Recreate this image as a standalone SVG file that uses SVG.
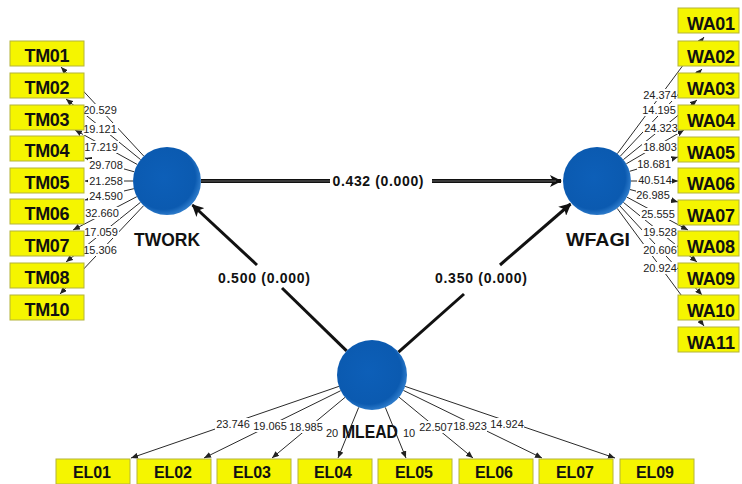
<svg xmlns="http://www.w3.org/2000/svg" width="742" height="484" viewBox="0 0 742 484">
<style>
.ld{stroke:#2a2a2a;stroke-width:1;fill:none;marker-end:url(#a)}
.st{stroke:#111;stroke-width:3;fill:none}
.num{font-family:"Liberation Sans",Arial,sans-serif;font-size:11px;fill:#222;text-anchor:middle}
.bg{fill:#fff}
.box{fill:#f5f500;stroke:#b4b43a;stroke-width:1}
.bt{font-family:"Liberation Sans",Arial,sans-serif;font-size:18px;font-weight:bold;fill:#111;text-anchor:middle}
.et{font-family:"Liberation Sans",Arial,sans-serif;font-size:16px;font-weight:bold;fill:#111;text-anchor:middle}
.lv{fill:url(#g)}
.lt{font-family:"Liberation Sans",Arial,sans-serif;font-size:18px;font-weight:bold;fill:#111;text-anchor:middle}
.pl{font-family:"Liberation Sans",Arial,sans-serif;font-size:14px;font-weight:bold;fill:#111;text-anchor:middle}
</style>
<defs>
<marker id="a" markerUnits="userSpaceOnUse" markerWidth="7" markerHeight="6" refX="7" refY="3" orient="auto"><path d="M0,0 L7,3 L0,6 z" fill="#222"/></marker>
<marker id="b" markerUnits="userSpaceOnUse" markerWidth="12" markerHeight="12" refX="11" refY="6" orient="auto"><path d="M0,0 L12,6 L0,12 L3,6 z" fill="#111"/></marker>
<radialGradient id="g" cx="0.45" cy="0.45" r="0.55"><stop offset="0" stop-color="#0d5fb8"/><stop offset="0.85" stop-color="#0b5ab0"/><stop offset="1" stop-color="#2a78c8"/></radialGradient>
</defs>
<rect width="742" height="484" fill="#fff"/>
<g id="connectors">
<line class="ld" x1="143.8" y1="156.1" x2="61" y2="67"/>
<line class="ld" x1="140.6" y1="159.6" x2="66" y2="99"/>
<line class="ld" x1="137.3" y1="164.5" x2="75" y2="130"/>
<line class="ld" x1="134.3" y1="171.8" x2="85" y2="158"/>
<line class="ld" x1="133" y1="181" x2="85" y2="181"/>
<line class="ld" x1="133.9" y1="188.7" x2="85" y2="200"/>
<line class="ld" x1="136.8" y1="196.7" x2="73" y2="230"/>
<line class="ld" x1="140.5" y1="202.3" x2="66" y2="262"/>
<line class="ld" x1="143.6" y1="205.7" x2="60" y2="294"/>
<line class="ld" x1="617.3" y1="153.7" x2="704" y2="37"/>
<line class="ld" x1="620.3" y1="156.2" x2="702" y2="69"/>
<line class="ld" x1="623.4" y1="159.6" x2="697" y2="100"/>
<line class="ld" x1="626.3" y1="163.8" x2="684" y2="130"/>
<line class="ld" x1="629.6" y1="171.3" x2="678" y2="157"/>
<line class="ld" x1="631" y1="181" x2="678" y2="181"/>
<line class="ld" x1="629.9" y1="189.5" x2="678" y2="202"/>
<line class="ld" x1="626.9" y1="197.1" x2="688" y2="230"/>
<line class="ld" x1="623.4" y1="202.4" x2="697" y2="262"/>
<line class="ld" x1="620" y1="206" x2="702" y2="295"/>
<line class="ld" x1="617.2" y1="208.4" x2="704" y2="326"/>
<line class="ld" x1="338.9" y1="386.4" x2="131" y2="458"/>
<line class="ld" x1="340.7" y1="390.7" x2="204" y2="458"/>
<line class="ld" x1="345.1" y1="397.3" x2="272" y2="458"/>
<line class="ld" x1="358.7" y1="407.4" x2="338" y2="458"/>
<line class="ld" x1="385.3" y1="407.4" x2="406" y2="458"/>
<line class="ld" x1="399.1" y1="397.2" x2="473" y2="458"/>
<line class="ld" x1="403.4" y1="390.4" x2="542" y2="458"/>
<line class="ld" x1="405.1" y1="386.4" x2="615" y2="458"/>
<g>
<rect class="bg" x="83" y="104" width="35" height="12"/><text class="num" x="100" y="114">20.529</text>
<rect class="bg" x="83" y="123" width="35" height="12"/><text class="num" x="100" y="133">19.121</text>
<rect class="bg" x="84" y="141" width="35" height="12"/><text class="num" x="101" y="151">17.219</text>
<rect class="bg" x="88" y="159" width="36" height="12"/><text class="num" x="106" y="169">29.708</text>
<rect class="bg" x="88" y="175" width="36" height="12"/><text class="num" x="106" y="185">21.258</text>
<rect class="bg" x="88" y="190" width="36" height="12"/><text class="num" x="106" y="200">24.590</text>
<rect class="bg" x="84" y="207" width="36" height="12"/><text class="num" x="102" y="217">32.660</text>
<rect class="bg" x="83" y="226" width="36" height="12"/><text class="num" x="101" y="236">17.059</text>
<rect class="bg" x="83" y="244" width="35" height="12"/><text class="num" x="100" y="254">15.306</text>
</g>
<g>
<rect class="bg" x="642" y="89" width="35" height="12"/><text class="num" x="660" y="99">24.374</text>
<rect class="bg" x="642" y="104" width="35" height="12"/><text class="num" x="659" y="114">14.195</text>
<rect class="bg" x="643" y="122" width="35" height="12"/><text class="num" x="661" y="132">24.323</text>
<rect class="bg" x="642" y="141" width="35" height="12"/><text class="num" x="660" y="151">18.803</text>
<rect class="bg" x="637" y="158" width="35" height="12"/><text class="num" x="654" y="168">18.681</text>
<rect class="bg" x="637" y="174" width="35" height="12"/><text class="num" x="655" y="184">40.514</text>
<rect class="bg" x="636" y="189" width="35" height="12"/><text class="num" x="653" y="199">26.985</text>
<rect class="bg" x="640" y="208" width="35" height="12"/><text class="num" x="658" y="218">25.555</text>
<rect class="bg" x="642" y="226" width="35" height="12"/><text class="num" x="660" y="236">19.528</text>
<rect class="bg" x="642" y="244" width="35" height="12"/><text class="num" x="660" y="254">20.606</text>
<rect class="bg" x="642" y="262" width="35" height="12"/><text class="num" x="660" y="272">20.924</text>
</g>
<g>
<rect class="bg" x="215" y="418" width="36" height="12"/><text class="num" x="233" y="428">23.746</text>
<rect class="bg" x="253" y="420" width="34" height="12"/><text class="num" x="270" y="430">19.065</text>
<rect class="bg" x="289" y="421" width="34" height="12"/><text class="num" x="306" y="431">18.985</text>
<rect class="bg" x="326" y="427" width="12" height="12"/><text class="num" x="332" y="437">20</text>
<rect class="bg" x="403" y="427" width="12" height="12"/><text class="num" x="409" y="437">10</text>
<rect class="bg" x="418" y="421" width="36" height="12"/><text class="num" x="436" y="431">22.507</text>
<rect class="bg" x="453" y="420" width="34" height="12"/><text class="num" x="470" y="430">18.923</text>
<rect class="bg" x="490" y="418" width="34" height="12"/><text class="num" x="507" y="428">14.924</text>
</g>
<g>
<line x1="201" y1="181" x2="330" y2="181" stroke="#111" stroke-width="4"/>
<line x1="201" y1="181" x2="330" y2="181" stroke="#777" stroke-width="0.8"/>
<line x1="432" y1="181" x2="561" y2="181" stroke="#111" stroke-width="4" marker-end="url(#b)"/>
<line x1="432" y1="181" x2="556" y2="181" stroke="#777" stroke-width="0.8"/>
<text class="pl" x="378" y="186" textLength="91">0.432 (0.000)</text>
<line class="st" x1="257" y1="265" x2="192.5" y2="205" marker-end="url(#b)"/>
<line class="st" x1="282" y1="288" x2="346.6" y2="350.9"/>
<text class="pl" x="264" y="283" textLength="92">0.500 (0.000)</text>
<line class="st" x1="500" y1="265" x2="570.5" y2="204" marker-end="url(#b)"/>
<line class="st" x1="464" y1="294" x2="398.5" y2="352.1"/>
<text class="pl" x="481" y="283" textLength="92">0.350 (0.000)</text>
</g>
</g>
<g id="TM01"><rect class="box" x="10" y="41" width="74" height="25"/><text class="bt" x="47" y="62" textLength="45">TM01</text></g>
<g id="TM02"><rect class="box" x="10" y="73" width="74" height="25"/><text class="bt" x="47" y="94" textLength="45">TM02</text></g>
<g id="TM03"><rect class="box" x="10" y="105" width="74" height="25"/><text class="bt" x="47" y="126" textLength="45">TM03</text></g>
<g id="TM04"><rect class="box" x="10" y="136" width="74" height="25"/><text class="bt" x="47" y="157" textLength="45">TM04</text></g>
<g id="TM05"><rect class="box" x="10" y="168" width="74" height="25"/><text class="bt" x="47" y="189" textLength="45">TM05</text></g>
<g id="TM06"><rect class="box" x="10" y="199" width="74" height="25"/><text class="bt" x="47" y="220" textLength="45">TM06</text></g>
<g id="TM07"><rect class="box" x="10" y="231" width="74" height="25"/><text class="bt" x="47" y="252" textLength="45">TM07</text></g>
<g id="TM08"><rect class="box" x="10" y="263" width="74" height="25"/><text class="bt" x="47" y="284" textLength="45">TM08</text></g>
<g id="TM10"><rect class="box" x="10" y="295" width="74" height="25"/><text class="bt" x="47" y="316" textLength="45">TM10</text></g>
<g id="WA01"><rect class="box" x="678" y="8" width="61" height="25"/><text class="bt" x="711" y="30" textLength="48">WA01</text></g>
<g id="WA02"><rect class="box" x="678" y="41" width="61" height="25"/><text class="bt" x="711" y="63" textLength="48">WA02</text></g>
<g id="WA03"><rect class="box" x="678" y="73" width="61" height="25"/><text class="bt" x="711" y="95" textLength="48">WA03</text></g>
<g id="WA04"><rect class="box" x="678" y="105" width="61" height="25"/><text class="bt" x="711" y="127" textLength="48">WA04</text></g>
<g id="WA05"><rect class="box" x="678" y="137" width="61" height="25"/><text class="bt" x="711" y="159" textLength="48">WA05</text></g>
<g id="WA06"><rect class="box" x="678" y="168" width="61" height="25"/><text class="bt" x="711" y="190" textLength="48">WA06</text></g>
<g id="WA07"><rect class="box" x="678" y="200" width="61" height="25"/><text class="bt" x="711" y="222" textLength="48">WA07</text></g>
<g id="WA08"><rect class="box" x="678" y="231" width="61" height="25"/><text class="bt" x="711" y="253" textLength="48">WA08</text></g>
<g id="WA09"><rect class="box" x="678" y="263" width="61" height="25"/><text class="bt" x="711" y="285" textLength="48">WA09</text></g>
<g id="WA10"><rect class="box" x="678" y="295" width="61" height="25"/><text class="bt" x="711" y="317" textLength="48">WA10</text></g>
<g id="WA11"><rect class="box" x="678" y="327" width="61" height="25"/><text class="bt" x="711" y="349" textLength="48">WA11</text></g>
<g id="EL01"><rect class="box" x="56" y="459" width="74" height="25"/><text class="et" x="92" y="478" textLength="38">EL01</text></g>
<g id="EL02"><rect class="box" x="137" y="459" width="74" height="25"/><text class="et" x="173" y="478" textLength="38">EL02</text></g>
<g id="EL03"><rect class="box" x="217" y="459" width="74" height="25"/><text class="et" x="252" y="478" textLength="38">EL03</text></g>
<g id="EL04"><rect class="box" x="298" y="459" width="74" height="25"/><text class="et" x="333" y="478" textLength="38">EL04</text></g>
<g id="EL05"><rect class="box" x="378" y="459" width="74" height="25"/><text class="et" x="414" y="478" textLength="38">EL05</text></g>
<g id="EL06"><rect class="box" x="459" y="459" width="74" height="25"/><text class="et" x="494" y="478" textLength="38">EL06</text></g>
<g id="EL07"><rect class="box" x="539" y="459" width="74" height="25"/><text class="et" x="575" y="478" textLength="38">EL07</text></g>
<g id="EL09"><rect class="box" x="620" y="459" width="74" height="25"/><text class="et" x="655" y="478" textLength="38">EL09</text></g>
<g id="TWORK"><circle class="lv" cx="167" cy="181" r="34"/><text class="lt" x="167" y="246" textLength="66" lengthAdjust="spacingAndGlyphs">TWORK</text></g>
<g id="WFAGI"><circle class="lv" cx="597" cy="181" r="34"/><text class="lt" x="598" y="246" textLength="64" lengthAdjust="spacingAndGlyphs">WFAGI</text></g>
<g id="MLEAD"><circle class="lv" cx="372" cy="375" r="35"/><text class="lt" x="370" y="438" textLength="56" lengthAdjust="spacingAndGlyphs">MLEAD</text></g>
</svg>
